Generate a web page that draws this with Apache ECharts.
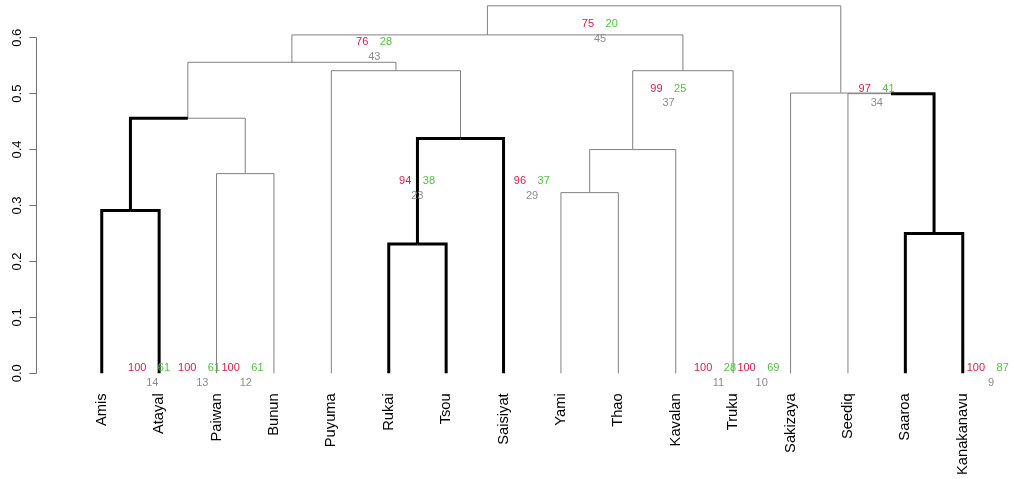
<!DOCTYPE html>
<html>
<head>
<meta charset="utf-8">
<script src="https://cdn.jsdelivr.net/npm/echarts@6/dist/echarts.min.js"></script>
<style>
  html, body { margin: 0; padding: 0; background: #fff; }
  #container { width: 1013px; height: 479px; }
</style>
</head>
<body>
<div id="container"></div>
<script>
// leaves, left to right
var leaves = ['Amis', 'Atayal', 'Paiwan', 'Bunun', 'Puyuma', 'Rukai', 'Tsou', 'Saisiyat',
  'Yami', 'Thao', 'Kavalan', 'Truku', 'Sakizaya', 'Seediq', 'Saaroa', 'Kanakanavu'];

// merges like hclust: negative = leaf number, positive = earlier merge
var mergeLeft  = [-1, -3, 1, -6, 4, -5, 3, -9, 8, 9, 7, -15, -14, -13, 11];
var mergeRight = [-2, -4, 2, -7, -8, 5, 6, -10, -11, -12, 10, -16, 12, 13, 14];
var mergeHeight = [0.291, 0.357, 0.456, 0.231, 0.420, 0.541, 0.556, 0.323, 0.400, 0.541, 0.605, 0.250, 0.500, 0.501, 0.657];

// branches drawn thick
var thickLeaves = [1, 2, 6, 7, 8, 15, 16];
var thickMerges = [1, 4, 12];

// pv labels: position (leaf units, height), au, bp, edge
var pvX = [5.749, 9.681, 6.498, 8.497, 10.875, 14.502, 1.882, 2.753, 3.509, 11.742, 12.498, 16.493];
var pvY = [0.592, 0.624, 0.343, 0.343, 0.508, 0.508, 0.009, 0.009, 0.009, 0.009, 0.009, 0.009];
var auVals = [76, 75, 94, 96, 99, 97, 100, 100, 100, 100, 100, 100];
var bpVals = [28, 20, 38, 37, 25, 41, 61, 61, 61, 28, 69, 87];
var edgeVals = [43, 45, 23, 29, 37, 34, 14, 13, 12, 11, 10, 9];

var FONT = '"Liberation Sans", Arial, Helvetica, sans-serif';

// x of every merge node
var nodeX = [];
function posOf(id) {
  return id < 0 ? { x: -id, h: 0 } : { x: nodeX[id - 1], h: mergeHeight[id - 1] };
}
for (var i = 0; i < mergeHeight.length; i++) {
  nodeX.push((posOf(mergeLeft[i]).x + posOf(mergeRight[i]).x) / 2);
}

// one edge per child: [childX, childH, parentX, parentH, thick]
var edges = [];
for (var i = 0; i < mergeHeight.length; i++) {
  [mergeLeft[i], mergeRight[i]].forEach(function (c) {
    var p = posOf(c);
    var thick = c < 0 ? thickLeaves.indexOf(-c) >= 0 : thickMerges.indexOf(c) >= 0;
    edges.push([p.x, p.h, nodeX[i], mergeHeight[i], thick ? 1 : 0]);
  });
}
edges.sort(function (a, b) { return a[4] - b[4]; });

var leafData = leaves.map(function (n, i) { return [i + 1, 0, n]; });
var pvData = pvX.map(function (x, i) { return [x, pvY[i], auVals[i], bpVals[i], edgeVals[i]]; });

var chart = echarts.init(document.getElementById('container'), null, { renderer: 'canvas' });

chart.setOption({
  animation: false,
  grid: { left: 67.3, right: 15.8, top: 37.7, bottom: 105.7 },
  xAxis: { type: 'value', min: 0.4, max: 16.6, show: false },
  yAxis: {
    type: 'value', min: 0, max: 0.6, interval: 0.1, offset: 31,
    splitLine: { show: false },
    axisLine: { show: true, lineStyle: { color: '#707070', width: 1 } },
    axisTick: { show: true, length: 7, lineStyle: { color: '#707070' } },
    axisLabel: {
      rotate: 90, margin: 12, color: '#000', fontSize: 13, fontFamily: FONT,
      formatter: function (v) { return v.toFixed(1); }
    }
  },
  series: [
    {
      type: 'custom', clip: false, data: edges,
      renderItem: function (params, api) {
        var p0 = api.coord([api.value(0), api.value(1)]);
        var p1 = api.coord([api.value(0), api.value(3)]);
        var p2 = api.coord([api.value(2), api.value(3)]);
        var thick = api.value(4) === 1;
        return {
          type: 'polyline',
          shape: { points: [p0, p1, p2] },
          style: { stroke: thick ? '#000' : '#808080', lineWidth: thick ? 3 : 1, fill: null }
        };
      }
    },
    {
      type: 'custom', clip: false, data: leafData,
      renderItem: function (params, api) {
        var p = api.coord([api.value(0), 0]);
        return {
          type: 'text', x: p[0], y: p[1] + 20, rotation: Math.PI / 2,
          style: {
            text: leaves[params.dataIndex], font: '14.7px ' + FONT, fill: '#000',
            align: 'right', verticalAlign: 'middle',
            textAlign: 'right', textVerticalAlign: 'middle'
          }
        };
      }
    },
    {
      type: 'custom', clip: false, data: pvData,
      renderItem: function (params, api) {
        var p = api.coord([api.value(0), api.value(1)]);
        var f = '11px ' + FONT;
        return {
          type: 'group',
          children: [
            { type: 'text', x: p[0] - 6, y: p[1], style: { text: String(api.value(2)), font: f, fill: '#D81B48',
              align: 'right', verticalAlign: 'middle', textAlign: 'right', textVerticalAlign: 'middle' } },
            { type: 'text', x: p[0] + 5.5, y: p[1], style: { text: String(api.value(3)), font: f, fill: '#4FC33D',
              align: 'left', verticalAlign: 'middle', textAlign: 'left', textVerticalAlign: 'middle' } },
            { type: 'text', x: p[0], y: p[1] + 14.3, style: { text: String(api.value(4)), font: f, fill: '#8C8C8C',
              align: 'center', verticalAlign: 'middle', textAlign: 'center', textVerticalAlign: 'middle' } }
          ]
        };
      }
    }
  ]
});

window.addEventListener('resize', function () { chart.resize(); });
</script>
</body>
</html>
